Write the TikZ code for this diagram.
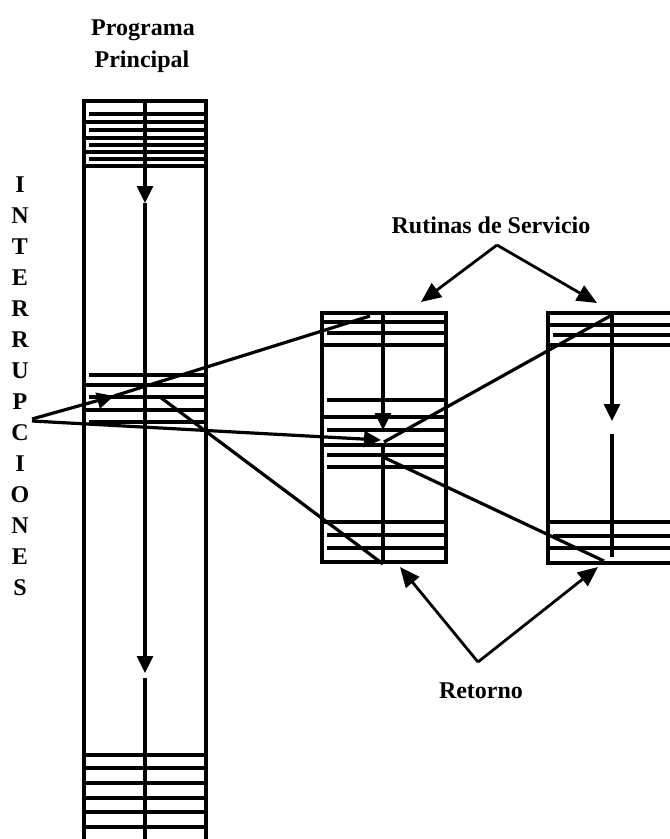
\documentclass[tikz,border=0pt]{standalone}
\usepackage{fontspec}
\setmainfont{Liberation Serif}
\usetikzlibrary{arrows.meta}
\begin{document}
\begin{tikzpicture}[x=1pt,y=-1pt,every path/.append style={line width=3.2pt},
  flecha/.style={-{Triangle[width=16pt,length=17pt]}},
  guia/.style={line width=2.8pt,-{Triangle[width=17pt,length=20pt]}},
  rotulo/.style={font=\fontsize{24}{30}\selectfont\bfseries,inner sep=0pt}]
  \useasboundingbox (0,0) rectangle (670,839);
  % programa principal
  \draw (84,101) rectangle (206,860);
  \foreach \y in {122,138,152,166,385,410,755,768,783,798,812,827}
    \draw (84,\y) -- (206,\y);
  \foreach \y in {114,130,145,159,375,397,422}
    \draw (89,\y) -- (206,\y);
  \coordinate (p0) at (145,101);
  \coordinate (p1) at (145,203);
  \coordinate (p2) at (145,673);
  \coordinate (p3) at (145,678);
  \coordinate (p4) at (145,860);
  \draw[flecha] (p0) -- (p1);
  \draw[flecha] (p1) -- (p2);
  \draw (p3) -- (p4);
  % rutina 1
  \draw (322,313) rectangle (446,562);
  \foreach \y in {322,345,417,445,522}
    \draw (322,\y) -- (446,\y);
  \foreach \y in {333,400,430,455,467,535,548}
    \draw (327,\y) -- (446,\y);
  \coordinate (a0) at (383,313);
  \coordinate (a1) at (383,430);
  \coordinate (a2) at (383,446);
  \coordinate (a3) at (383,562);
  \draw[flecha] (a0) -- (a1);
  \draw (a2) -- (a3);
  % rutina 2
  \draw (548,313) rectangle (690,563);
  \foreach \y in {325,345,522,548}
    \draw (548,\y) -- (690,\y);
  \foreach \y in {335,536}
    \draw (553,\y) -- (690,\y);
  \coordinate (b0) at (612,313);
  \coordinate (b1) at (612,421);
  \coordinate (b2) at (612,434);
  \coordinate (b3) at (612,557);
  \draw[flecha] (b0) -- (b1);
  \draw (b2) -- (b3);
  % interrupciones
  \foreach \l [count=\i from 0] in {I,N,T,E,R,R,U,P,C,I,O,N,E,S}
    \node[rotulo] (int\i) at (20,{185+31*\i}) {\l};
  \coordinate (irq) at (32,419);
  \coordinate (irqA) at (114,396);
  \coordinate (r1ent) at (370,316);
  \coordinate (irqB) at (32,421);
  \coordinate (r1irq) at (381,440);
  \draw[flecha] (irq) -- (irqA);
  \draw (irqA) -- (r1ent);
  \draw[flecha] (irqB) -- (r1irq);
  % salto a rutina 2
  \coordinate (r1sal) at (384,442);
  \coordinate (r2ent) at (612,315);
  \draw (r1sal) -- (r2ent);
  % retornos
  \coordinate (r1fin) at (383,564);
  \coordinate (pret) at (160,397);
  \coordinate (r2fin) at (604,561);
  \coordinate (r1ret) at (383,457);
  \draw (r1fin) -- (pret);
  \draw (r2fin) -- (r1ret);
  % textos
  \node[rotulo,anchor=base] (prog1) at (143,35) {Programa};
  \node[rotulo,anchor=base] (prog2) at (142,67) {Principal};
  \node[rotulo,anchor=base] (rut) at (491,233) {Rutinas de Servicio};
  \node[rotulo,anchor=base] (ret) at (481,698) {Retorno};
  % flechas de los rotulos
  \coordinate (rs) at (497,245);
  \draw[guia] (rs) -- (421,302);
  \draw[guia] (rs) -- (597,303);
  \coordinate (rr) at (478,662);
  \draw[guia] (rr) -- (400,567);
  \draw[guia] (rr) -- (598,567);
\end{tikzpicture}
\end{document}
